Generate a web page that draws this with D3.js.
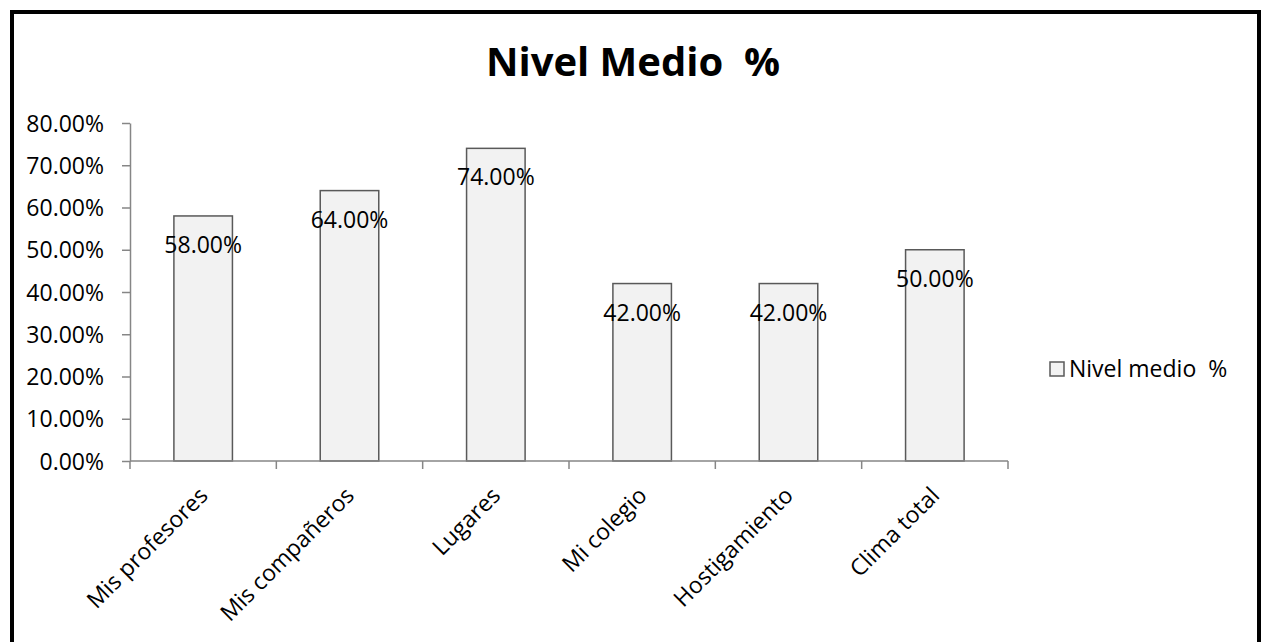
<!DOCTYPE html>
<html>
<head>
<meta charset="utf-8">
<script src="https://cdn.jsdelivr.net/npm/d3@7"></script>
<style>
  html, body { margin: 0; padding: 0; background: #fff; }
  svg text { font-family: "Open Sans", "Noto Sans", sans-serif; white-space: pre; }
</style>
</head>
<body>
<svg id="chart" width="1265" height="642"></svg>
<script>
// Data
const categories = ["Mis profesores", "Mis compañeros", "Lugares", "Mi colegio", "Hostigamiento", "Clima total"];
const values = [0.58, 0.64, 0.74, 0.42, 0.42, 0.50];
const yTicks = [0, 0.1, 0.2, 0.3, 0.4, 0.5, 0.6, 0.7, 0.8];
const title = "Nivel Medio  %";
const seriesName = "Nivel medio  %";

const svg = d3.select("#chart");
const axisColor = "#868686";
const barFill = "#f2f2f2";
const barStroke = "#595959";

// Outer frame
svg.append("rect")
  .attr("x", 12).attr("y", 12)
  .attr("width", 1247).attr("height", 700)
  .attr("fill", "#fff").attr("stroke", "#000").attr("stroke-width", 4);

// Title
svg.append("text")
  .attr("x", 633).attr("y", 76)
  .attr("text-anchor", "middle")
  .attr("font-size", 40).attr("font-weight", "bold")
  .text(title);

// Scales
const x = d3.scaleBand().domain(categories).range([130, 1008]).padding(0);
const y = d3.scaleLinear().domain([0, 0.8]).range([461, 123]);
const barW = x.bandwidth() * 0.4;

// Y axis
const yAxis = d3.axisLeft(y).tickValues(yTicks).tickFormat(d3.format(".2%")).tickSize(8).tickSizeOuter(0);
const gy = svg.append("g").attr("transform", "translate(130,0)").call(yAxis);
gy.select(".domain").attr("stroke", axisColor).attr("stroke-width", 1.5);
gy.selectAll(".tick line").attr("stroke", axisColor).attr("stroke-width", 1.5);
gy.selectAll(".tick text")
  .attr("x", -26).attr("dy", "0.35em")
  .attr("font-size", 23).attr("fill", "#000")
  .style("font-family", "'Open Sans', sans-serif");

// Bars
svg.append("g").selectAll("rect")
  .data(values)
  .join("rect")
  .attr("x", (d, i) => x(categories[i]) + x.bandwidth() / 2 - barW / 2)
  .attr("y", d => y(d))
  .attr("width", barW)
  .attr("height", d => y(0) - y(d))
  .attr("fill", barFill)
  .attr("stroke", barStroke)
  .attr("stroke-width", 1.5);

// X axis line and tick marks at band boundaries
const gx = svg.append("g");
gx.append("line")
  .attr("x1", x.range()[0]).attr("x2", x.range()[1])
  .attr("y1", y(0)).attr("y2", y(0))
  .attr("stroke", axisColor).attr("stroke-width", 1.5);
const boundaries = categories.map(c => x(c)).concat([x.range()[1]]);
gx.selectAll("line.tick")
  .data(boundaries)
  .join("line")
  .attr("class", "tick")
  .attr("x1", d => d).attr("x2", d => d)
  .attr("y1", y(0)).attr("y2", y(0) + 8)
  .attr("stroke", axisColor).attr("stroke-width", 1.5);

// Category labels, rotated
gx.selectAll("text")
  .data(categories)
  .join("text")
  .attr("text-anchor", "end")
  .attr("font-size", 23)
  .attr("transform", c => `translate(${x(c) + x.bandwidth() / 2 + 6},${y(0) + 36}) rotate(-45)`)
  .text(c => c);

// Value labels
svg.append("g").selectAll("text")
  .data(values)
  .join("text")
  .attr("x", (d, i) => x(categories[i]) + x.bandwidth() / 2)
  .attr("y", d => y(d) + 37)
  .attr("text-anchor", "middle")
  .attr("font-size", 23)
  .text(d => d3.format(".2%")(d));

// Legend
const lg = svg.append("g").attr("transform", "translate(1050,362)");
lg.append("rect")
  .attr("width", 14).attr("height", 14)
  .attr("fill", barFill).attr("stroke", barStroke).attr("stroke-width", 1.5);
lg.append("text")
  .attr("x", 19).attr("y", 15)
  .attr("font-size", 23)
  .text(seriesName);
</script>
</body>
</html>
